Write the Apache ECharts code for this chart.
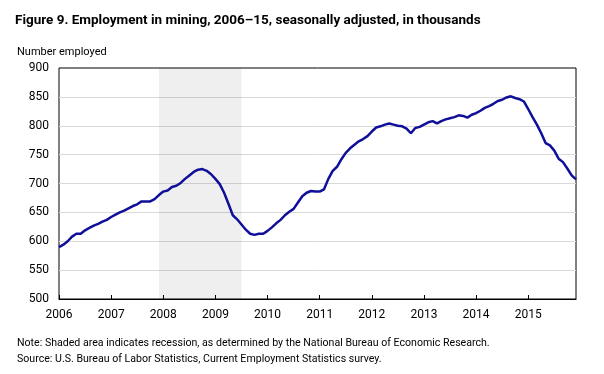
<!DOCTYPE html>
<html><head><meta charset="utf-8">
<script src="https://cdn.jsdelivr.net/npm/echarts@6/dist/echarts.min.js"></script>
<style>html,body{margin:0;padding:0;background:#fff}#c{width:604px;height:374px}</style>
</head><body><div id="c"></div>
<script>
const FONT = "Roboto, 'Open Sans', sans-serif";
const years = [2006,2007,2008,2009,2010,2011,2012,2013,2014,2015];
const yTicks = [500,550,600,650,700,750,800,850,900];
// Monthly employment in mining, thousands (Jan 2006 - Dec 2015)
const employment = [
 590,594,600,608,613,613,619,623,627,630,634,637,
 642,646,650,653,657,661,664,669,669,669,673,680,
 686,688,694,696,701,708,714,720,724,725,722,716,
 708,699,684,665,645,638,629,620,613,611,613,613,
 618,624,631,637,645,651,656,667,678,684,687,686,
 686,690,708,722,729,742,753,761,767,773,777,782,
 790,797,799,802,804,802,800,799,795,787,796,798,
 802,806,808,804,808,811,813,815,818,817,814,819,
 822,826,831,834,838,843,845,849,851,848,846,842,
 829,815,802,787,770,766,757,743,737,726,714,707
];
const recession = ['2007-12','2009-07'];
const months = [];
years.forEach(y => { for (let m = 1; m <= 12; m++) months.push(y + '-' + String(m).padStart(2,'0')); });

const chart = echarts.init(document.getElementById('c'));
chart.setOption({
  animation: false,
  textStyle: {fontFamily: FONT},
  title: [
    {text: 'Figure 9. Employment in mining, 2006\u201315, seasonally adjusted, in thousands', left: 10, top: 9,
     textStyle: {fontFamily: FONT, fontSize: 13.5, fontWeight: 'bold', color: '#000'}},
    {text: 'Number employed', left: 12, top: 42, textStyle: {fontFamily: FONT, fontSize: 11, fontWeight: 'normal', color: '#000'}},
    {text: 'Note: Shaded area indicates recession, as determined by the National Bureau of Economic Research.', left: 12, top: 333,
     textStyle: {fontFamily: FONT, fontSize: 10.6, fontWeight: 'normal', color: '#000'}},
    {text: 'Source: U.S. Bureau of Labor Statistics, Current Employment Statistics survey.', left: 12, top: 349,
     textStyle: {fontFamily: FONT, fontSize: 10.6, fontWeight: 'normal', color: '#000'}}
  ],
  grid: {left: 59, right: 28, top: 68, bottom: 75, show: true, borderColor: '#000', borderWidth: 1, backgroundColor: 'transparent'},
  xAxis: {
    type: 'category', data: months, boundaryGap: false,
    axisLine: {lineStyle: {color: '#000', width: 1}},
    axisTick: {inside: true, length: 4, lineStyle: {color: '#000'}, interval: (i) => i % 12 === 0},
    axisLabel: {interval: (i) => i % 12 === 0, formatter: (v) => v.slice(0,4), color: '#000', fontSize: 12, margin: 10, fontFamily: FONT},
    splitLine: {show: false}
  },
  yAxis: {
    type: 'value', min: yTicks[0], max: yTicks[yTicks.length-1], interval: 50,
    axisLine: {show: false}, axisTick: {show: false},
    axisLabel: {color: '#000', fontSize: 12, margin: 10, fontFamily: FONT},
    splitLine: {show: true, showMinLine: false, showMaxLine: false, lineStyle: {color: '#d9d9d9', width: 1}}
  },
  series: [{
    type: 'line', data: employment, showSymbol: false, symbol: 'none',
    lineStyle: {color: '#0f0f9a', width: 2.5},
    markArea: {silent: true, itemStyle: {color: 'rgba(0,0,0,0.063)'}, data: [[{xAxis: recession[0]}, {xAxis: recession[1]}]]}
  }]
});
</script></body></html>
